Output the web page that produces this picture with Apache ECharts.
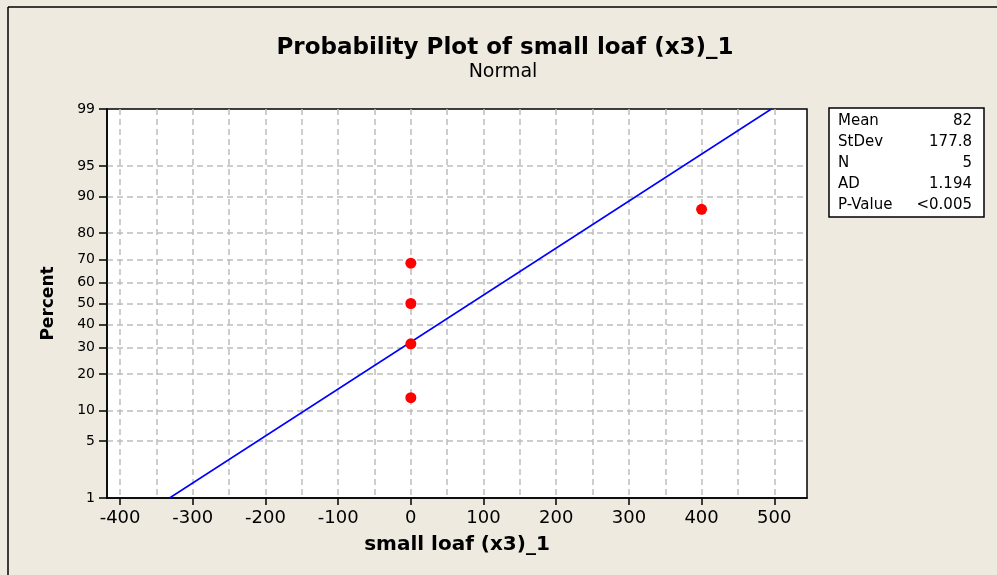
<!DOCTYPE html>
<html>
<head>
<meta charset="utf-8">
<script src="https://cdn.jsdelivr.net/npm/echarts@6/dist/echarts.min.js"></script>
<style>
html,body{margin:0;padding:0;background:#EEEAE0;}
#chart{width:997px;height:575px;}
</style>
</head>
<body>
<div id="chart"></div>
<script>
// ---- data ----
const percentTicks = [1, 5, 10, 20, 30, 40, 50, 60, 70, 80, 90, 95, 99];
const xTickValues = [-400, -300, -200, -100, 0, 100, 200, 300, 400, 500];
const xGridValues = [-400, -350, -300, -250, -200, -150, -100, -50, 0, 50, 100, 150, 200, 250, 300, 350, 400, 450, 500];
const pointX = [0, 0, 0, 0, 400];
const pointPercent = [13, 31.5, 50, 68.5, 87];
const fitLineX = [-332, 496];
const fitLinePercent = [1, 99];
const statNames = ['Mean', 'StDev', 'N', 'AD', 'P-Value'];
const statValues = ['82', '177.8', '5', '1.194', '<0.005'];

// normal probability scale transform (percent -> z)
function invNorm(p) {
  const a = [-3.969683028665376e+01, 2.209460984245205e+02, -2.759285104469687e+02, 1.383577518672690e+02, -3.066479806614716e+01, 2.506628277459239e+00];
  const b = [-5.447609879822406e+01, 1.615858368580409e+02, -1.556989798598866e+02, 6.680131188771972e+01, -1.328068155288572e+01];
  const c = [-7.784894002430293e-03, -3.223964580411365e-01, -2.400758277161838e+00, -2.549732539343734e+00, 4.374664141464968e+00, 2.938163982698783e+00];
  const d = [7.784695709041462e-03, 3.224671290700398e-01, 2.445134137142996e+00, 3.754408661907416e+00];
  const pl = 0.02425, ph = 1 - pl;
  let q, r;
  if (p < pl) { q = Math.sqrt(-2 * Math.log(p)); return (((((c[0]*q+c[1])*q+c[2])*q+c[3])*q+c[4])*q+c[5]) / ((((d[0]*q+d[1])*q+d[2])*q+d[3])*q+1); }
  if (p > ph) { q = Math.sqrt(-2 * Math.log(1 - p)); return -(((((c[0]*q+c[1])*q+c[2])*q+c[3])*q+c[4])*q+c[5]) / ((((d[0]*q+d[1])*q+d[2])*q+d[3])*q+1); }
  q = p - 0.5; r = q * q;
  return (((((a[0]*r+a[1])*r+a[2])*r+a[3])*r+a[4])*r+a[5])*q / (((((b[0]*r+b[1])*r+b[2])*r+b[3])*r+b[4])*r+1);
}
const z = pct => invNorm(pct / 100);
const zTicks = percentTicks.map(z);
const zMin = z(1), zMax = z(99);

const FONT = 'DejaVu Sans';
const chart = echarts.init(document.getElementById('chart'), null, {renderer: 'canvas'});

const statChildren = [];
statNames.forEach((n, i) => {
  statChildren.push({type: 'text', x: 9, y: 6 + i * 21, style: {text: n, font: '15px "DejaVu Sans"', fill: '#000'}});
  statChildren.push({type: 'text', x: 143, y: 6 + i * 21, style: {text: statValues[i], font: '15px "DejaVu Sans"', fill: '#000', align: 'right'}});
});

const gridLineStyle = {color: '#bdbdbd', width: 1.5, type: [6, 4]};

chart.setOption({
  backgroundColor: '#EEEAE0',
  animation: false,
  textStyle: {fontFamily: FONT},
  grid: {left: 107, top: 109, right: 190, bottom: 77, show: true, backgroundColor: '#fff', borderColor: '#000', borderWidth: 1.5, containLabel: false},
  xAxis: [{
    type: 'value', position: 'bottom', min: -418, max: 545,
    axisLine: {show: true, onZero: false, lineStyle: {color: '#000', width: 1.5}},
    axisTick: {show: true, length: 7, customValues: xTickValues, lineStyle: {color: '#000', width: 1.5}},
    axisLabel: {customValues: xTickValues, fontSize: 18, color: '#000', margin: 11, fontFamily: FONT},
    splitLine: {show: false},
    name: 'small loaf (x3)_1', nameLocation: 'middle', nameGap: 37,
    nameTextStyle: {fontSize: 20, fontWeight: 'bold', color: '#000', fontFamily: FONT}
  }, {
    type: 'value', position: 'top', min: -418, max: 545,
    axisLine: {show: false}, axisLabel: {show: false},
    axisTick: {show: false, customValues: xGridValues},
    splitLine: {show: true, showMinLine: true, showMaxLine: true, lineStyle: gridLineStyle}
  }],
  yAxis: [{
    type: 'value', min: zMin, max: zMax,
    axisLine: {show: true, onZero: false, lineStyle: {color: '#000', width: 1.5}},
    axisTick: {show: true, length: 8, customValues: zTicks, lineStyle: {color: '#000', width: 1.5}},
    axisLabel: {
      customValues: zTicks, fontSize: 14, color: '#000', margin: 12, fontFamily: FONT,
      formatter: function (v) {
        let best = 0;
        zTicks.forEach((t, i) => { if (Math.abs(t - v) < Math.abs(zTicks[best] - v)) best = i; });
        return String(percentTicks[best]);
      }
    },
    splitLine: {show: true, showMinLine: false, showMaxLine: false, lineStyle: gridLineStyle},
    name: 'Percent', nameLocation: 'middle', nameRotate: 90, nameGap: 50,
    nameTextStyle: {fontSize: 17, fontWeight: 'bold', color: '#000', fontFamily: FONT}
  }],
  series: [{
    type: 'line', xAxisIndex: 0, yAxisIndex: 0,
    data: fitLineX.map((x, i) => [x, z(fitLinePercent[i])]),
    symbol: 'none', lineStyle: {color: '#0000FF', width: 1.5}, z: 3, silent: true
  }, {
    type: 'scatter', xAxisIndex: 0, yAxisIndex: 0,
    data: pointX.map((x, i) => [x, z(pointPercent[i])]),
    symbol: 'circle', symbolSize: 11, itemStyle: {color: '#FF0000', opacity: 1}, z: 4
  }],
  graphic: [
    {type: 'line', shape: {x1: 8, y1: 7, x2: 8, y2: 575}, style: {stroke: '#000', lineWidth: 1.5}},
    {type: 'line', shape: {x1: 8, y1: 7, x2: 997, y2: 7}, style: {stroke: '#000', lineWidth: 1.5}},
    {type: 'text', x: 505, y: 48, style: {text: 'Probability Plot of small loaf (x3)_1', font: 'bold 23px "DejaVu Sans"', fill: '#000', align: 'center', verticalAlign: 'middle'}},
    {type: 'text', x: 503, y: 72, style: {text: 'Normal', font: '19px "DejaVu Sans"', fill: '#000', align: 'center', verticalAlign: 'middle'}},
    {type: 'group', x: 829, y: 108, children: [
      {type: 'rect', shape: {x: 0, y: 0, width: 155, height: 109}, style: {fill: '#fff', stroke: '#000', lineWidth: 1.5}}
    ].concat(statChildren)}
  ]
});
</script>
</body>
</html>
